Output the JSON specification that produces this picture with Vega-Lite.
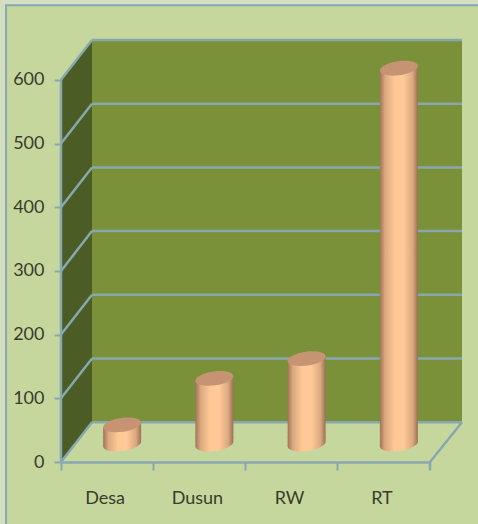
{"$schema":"https://vega.github.io/schema/vega-lite/v6.json","width":401,"height":422,"autosize":"none","padding":{"left":61,"top":40,"right":16,"bottom":62},"background":"#d3dec2","config":{"view":{"stroke":null}},"datasets":{"bars":[{"level":"Desa","jumlah":30},{"level":"Dusun","jumlah":103},{"level":"RW","jumlah":134},{"level":"RT","jumlah":590}],"frame":[{"x":-0.596,"x2":4.7,"y":717,"y2":-110}],"walls":[{"p":"back","x":0.336,"y":62.5,"y2":662.5},{"p":"back","x":4.347,"y":62.5,"y2":662.5},{"p":"side","x":0,"y":0,"y2":600},{"p":"side","x":0.336,"y":62.5,"y2":662.5}],"lines":[{"s":"s0","x":0,"y":0},{"s":"s0","x":0.336,"y":62.5},{"s":"b0","x":0.336,"y":62.5},{"s":"b0","x":4.347,"y":62.5},{"s":"s1","x":0,"y":100},{"s":"s1","x":0.336,"y":162.5},{"s":"b1","x":0.336,"y":162.5},{"s":"b1","x":4.347,"y":162.5},{"s":"s2","x":0,"y":200},{"s":"s2","x":0.336,"y":262.5},{"s":"b2","x":0.336,"y":262.5},{"s":"b2","x":4.347,"y":262.5},{"s":"s3","x":0,"y":300},{"s":"s3","x":0.336,"y":362.5},{"s":"b3","x":0.336,"y":362.5},{"s":"b3","x":4.347,"y":362.5},{"s":"s4","x":0,"y":400},{"s":"s4","x":0.336,"y":462.5},{"s":"b4","x":0.336,"y":462.5},{"s":"b4","x":4.347,"y":462.5},{"s":"s5","x":0,"y":500},{"s":"s5","x":0.336,"y":562.5},{"s":"b5","x":0.336,"y":562.5},{"s":"b5","x":4.347,"y":562.5},{"s":"s6","x":0,"y":600},{"s":"s6","x":0.336,"y":662.5},{"s":"b6","x":0.336,"y":662.5},{"s":"b6","x":4.347,"y":662.5},{"s":"left","x":0,"y":0},{"s":"left","x":0,"y":600},{"s":"right","x":4,"y":0},{"s":"right","x":4.347,"y":62.5},{"s":"tick","x":4,"y":0},{"s":"tick","x":4,"y":-13}]},"resolve":{"scale":{"x":"independent"},"axis":{"x":"independent"}},"layer":[{"data":{"name":"frame"},"mark":{"type":"rect","fill":"#c6d79e","stroke":"#88a8b0","strokeWidth":2},"encoding":{"x":{"field":"x","type":"quantitative","axis":null,"scale":{"domain":[0,4.347],"nice":false,"zero":false}},"x2":{"field":"x2"},"y":{"field":"y","type":"quantitative","scale":{"domain":[0,662.5],"nice":false},"title":null,"axis":{"zindex":1,"values":[0,100,200,300,400,500,600],"domain":false,"grid":false,"tickSize":7,"tickWidth":2,"tickColor":"#88a8b0","labelFont":"Lato","labelFontSize":18,"labelColor":"#3a3b2c","labelPadding":10}},"y2":{"field":"y2"}}},{"data":{"name":"walls"},"mark":{"type":"area","opacity":1},"encoding":{"x":{"field":"x","type":"quantitative","axis":null,"scale":{"domain":[0,4.347],"nice":false,"zero":false}},"y":{"field":"y","type":"quantitative"},"y2":{"field":"y2"},"detail":{"field":"p"},"color":{"field":"p","type":"nominal","legend":null,"scale":{"domain":["back","side"],"range":["#7a9139","#4b5c24"]}}}},{"data":{"name":"lines"},"mark":{"type":"line","stroke":"#88a8b0","strokeWidth":2.5},"encoding":{"x":{"field":"x","type":"quantitative","axis":null,"scale":{"domain":[0,4.347],"nice":false,"zero":false}},"y":{"field":"y","type":"quantitative"},"detail":{"field":"s"}}},{"data":{"name":"bars"},"layer":[{"mark":{"type":"point","filled":true,"opacity":1,"size":1444,"xOffset":15,"yOffset":-18,"fill":{"gradient":"linear","x1":0,"x2":1,"y1":0,"y2":0,"stops":[{"offset":0,"color":"#a0745a"},{"offset":0.14,"color":"#dba97f"},{"offset":0.38,"color":"#fdc896"},{"offset":0.62,"color":"#ffca98"},{"offset":0.86,"color":"#dba97f"},{"offset":1,"color":"#9a7055"}]},"shape":"M-1,-0.35 L1,-0.35 L1,-0.14 C1.028,0.062 0.603,0.289 0.051,0.366 C-0.501,0.443 -0.972,0.342 -1,0.14 Z"},"encoding":{"x":{"field":"level","type":"nominal","sort":null,"title":null,"scale":{"range":[0,369],"paddingInner":0,"paddingOuter":0},"axis":{"zindex":1,"labelAngle":0,"bandPosition":0,"domainColor":"#88a8b0","domainWidth":2.5,"tickColor":"#88a8b0","tickWidth":2,"tickSize":8,"labelFont":"Lato","labelFontSize":18,"labelColor":"#3a3b2c","labelPadding":19,"labelOffset":-2}},"y":{"datum":0,"type":"quantitative"}}},{"mark":{"type":"rect","width":38,"xOffset":15,"yOffset":-11,"y2Offset":-24,"fill":{"gradient":"linear","x1":0,"x2":1,"y1":0,"y2":0,"stops":[{"offset":0,"color":"#a0745a"},{"offset":0.14,"color":"#dba97f"},{"offset":0.38,"color":"#fdc896"},{"offset":0.62,"color":"#ffca98"},{"offset":0.86,"color":"#dba97f"},{"offset":1,"color":"#9a7055"}]}},"encoding":{"x":{"field":"level","type":"nominal","sort":null},"y":{"field":"jumlah","type":"quantitative"},"y2":{"datum":0}}},{"mark":{"type":"point","filled":true,"opacity":1,"size":1444,"xOffset":15,"yOffset":-18,"fill":{"gradient":"linear","x1":0,"x2":1,"y1":0,"y2":0,"stops":[{"offset":0,"color":"#a0745a"},{"offset":0.14,"color":"#dba97f"},{"offset":0.38,"color":"#fdc896"},{"offset":0.62,"color":"#ffca98"},{"offset":0.86,"color":"#dba97f"},{"offset":1,"color":"#9a7055"}]},"shape":"M-1,0.14 L1,-0.14 L1,0.42 L-1,0.42 Z"},"encoding":{"x":{"field":"level","type":"nominal","sort":null},"y":{"field":"jumlah","type":"quantitative"}}},{"mark":{"type":"point","filled":true,"opacity":1,"size":1444,"xOffset":15,"yOffset":-18,"fill":"#c69473","shape":"M-1,0.14 C-1.028,-0.062 -0.603,-0.289 -0.051,-0.366 C0.501,-0.443 0.972,-0.342 1,-0.14 C1.028,0.062 0.603,0.289 0.051,0.366 C-0.501,0.443 -0.972,0.342 -1,0.14 Z"},"encoding":{"x":{"field":"level","type":"nominal","sort":null},"y":{"field":"jumlah","type":"quantitative"}}}]}]}
